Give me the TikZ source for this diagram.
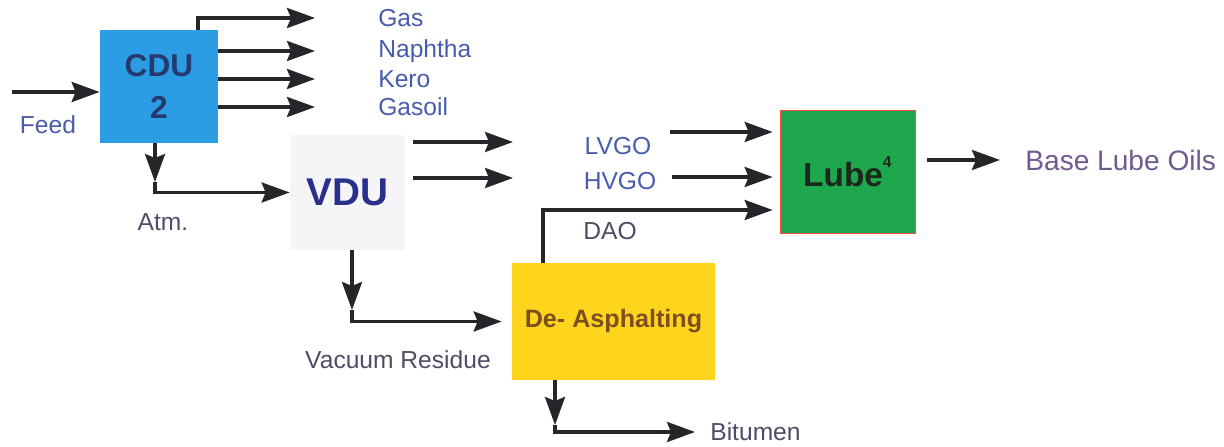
\documentclass[tikz,border=0pt]{standalone}
\usepackage{fontspec}
\setmainfont{Liberation Sans}
\usepackage{xcolor}
\usepackage{tikz}
\usetikzlibrary{arrows.meta, positioning, calc}
\definecolor{cdublue}{RGB}{42,157,228}
\definecolor{lubegreen}{RGB}{30,167,76}
\definecolor{dayellow}{RGB}{255,212,28}
\definecolor{vdugray}{RGB}{245,245,248}
\definecolor{streamblue}{RGB}{72,92,172}
\definecolor{oilpurple}{RGB}{112,90,142}
\definecolor{darkslate}{RGB}{78,76,102}
\definecolor{cduink}{RGB}{38,58,112}
\definecolor{vduink}{RGB}{40,48,140}
\definecolor{dabrown}{RGB}{122,80,30}
\definecolor{lubeink}{RGB}{28,40,30}
\definecolor{pipegray}{RGB}{38,38,42}
\tikzstyle{unit} = [rectangle, text centered, inner sep=0pt]
\tikzstyle{stream} = [inner sep=0pt, text=streamblue, font=\fontsize{14}{16}\selectfont]
\tikzstyle{arrow} = [draw=pipegray, line width=2pt, -{Stealth[length=5.6mm, width=4mm, inset=0.8mm]}]

\begin{document}
\begin{tikzpicture}
    \useasboundingbox (0,0) rectangle (24.48,8.92);
    % process units
    \node (cdu) [unit, fill=cdublue, text=cduink, minimum width=2.36cm, minimum height=2.26cm, align=center, font=\fontsize{18}{24}\selectfont\bfseries] at (3.18,7.19) {CDU\\2};
    \node (vdu) [unit, fill=vdugray, text=vduink, minimum width=2.3cm, minimum height=2.3cm, font=\fontsize{22}{26}\selectfont\bfseries] at (6.95,5.07) {VDU};
    \node (lube) [unit, fill=lubegreen, draw=red!70, text=lubeink, minimum width=2.7cm, minimum height=2.46cm, font=\fontsize{19}{22}\selectfont\bfseries] at (16.95,5.49) {Lube\raisebox{1.1ex}{\fontsize{9}{9}\selectfont 4}};
    \node (deasph) [unit, fill=dayellow, text=dabrown, minimum width=4.06cm, minimum height=2.34cm, font=\fontsize{14.3}{17}\selectfont\bfseries] at (12.27,2.49) {De- Asphalting};

    % feed
    \coordinate (feedin) at (0.24,7.08);
    \draw [arrow] (feedin) -- (feedin -| cdu.west);
    \node (feed) [stream] at (0.96,6.42) {Feed};

    % light products
    \coordinate (outGas) at (6.3,8.56);
    \draw [arrow] ([xshift=0.78cm]cdu.north) |- (outGas);
    \node (lblGas) [stream, right=1.26cm of outGas] {Gas};
    \foreach \y/\name in {7.90/Naphtha, 7.34/Kero, 6.78/Gasoil} {
        \coordinate (out\name) at (6.3,\y);
        \draw [arrow] (cdu.east |- out\name) -- (out\name);
        \node (lbl\name) [stream, right=1.26cm of out\name] {\name};
    }

    % atmospheric residue
    \coordinate (atmtip) at (3.1,5.28);
    \draw [arrow] (cdu.south -| atmtip) -- (atmtip);
    \draw [arrow] (atmtip) |- (vdu.west);
    \node (atm) [stream, text=darkslate] at (3.26,4.48) {Atm.};

    % vacuum gas oils
    \coordinate (lvgoend) at (10.26,6.08);
    \coordinate (hvgoend) at (10.26,5.36);
    \draw [arrow] ([xshift=0.16cm]vdu.east |- lvgoend) -- (lvgoend);
    \draw [arrow] ([xshift=0.16cm]vdu.east |- hvgoend) -- (hvgoend);
    \node (lvgo) [stream] at (12.36,6.0) {LVGO};
    \node (hvgo) [stream] at (12.4,5.3) {HVGO};
    \node (dao) [stream, text=darkslate] at (12.2,4.3) {DAO};
    \coordinate (lvgoin) at (13.4,6.28);
    \coordinate (hvgoin) at (13.44,5.38);
    \coordinate (daox) at (10.86,4.72);
    \draw [arrow, shorten >=0.14cm] (lvgoin) -- (lvgoin -| lube.west);
    \draw [arrow, shorten >=0.14cm] (hvgoin) -- (hvgoin -| lube.west);
    \draw [arrow, shorten >=0.14cm] (deasph.north -| daox) -- (daox) -- (daox -| lube.west);

    % base oils
    \coordinate (oilsend) at (20.0,5.72);
    \draw [arrow] ([xshift=0.24cm]lube.east |- oilsend) -- (oilsend);
    \node (oils) [stream, text=oilpurple, font=\fontsize{16}{19}\selectfont, right=0.5cm of oilsend] {Base Lube Oils};

    % vacuum residue
    \coordinate (vrtip) at (7.04,2.72);
    \draw [arrow] (vdu.south -| vrtip) -- (vrtip);
    \draw [arrow, shorten >=0.2cm] (vrtip) |- (deasph.west);
    \node (vr) [stream, text=darkslate] at (7.96,1.72) {Vacuum Residue};

    % bitumen
    \coordinate (bittip) at (11.1,0.42);
    \coordinate (bitend) at (13.9,0.28);
    \draw [arrow] (deasph.south -| bittip) -- (bittip);
    \draw [arrow] (bittip) |- (bitend);
    \node (bitumen) [stream, text=darkslate, right=0.3cm of bitend] {Bitumen};
\end{tikzpicture}
\end{document}
